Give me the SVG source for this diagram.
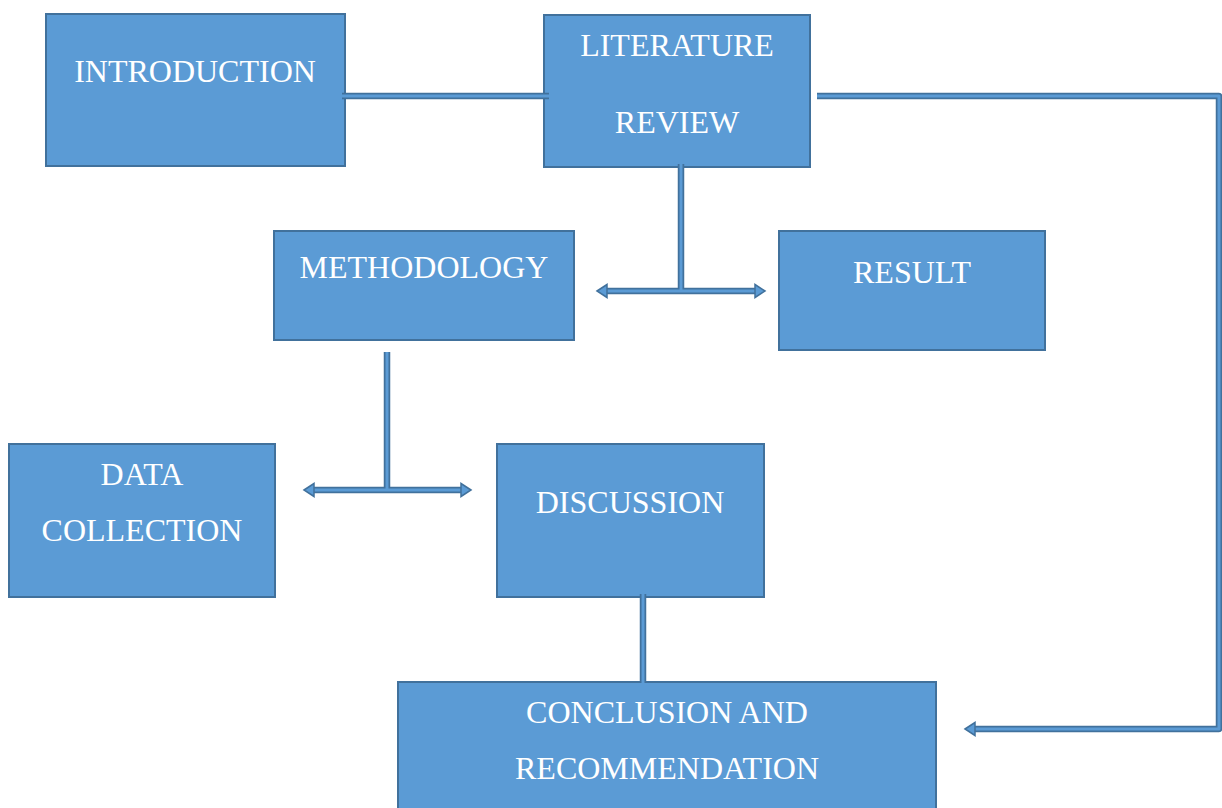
<svg xmlns="http://www.w3.org/2000/svg" width="1222" height="808" viewBox="0 0 1222 808">
<style>
.box{fill:#5b9bd5;stroke:#41719c;stroke-width:2}
.lbl{fill:#ffffff;font-family:"Liberation Serif","Times New Roman",serif;font-size:32px;text-anchor:middle}
.co{fill:none;stroke:#41719c;stroke-width:6.5;stroke-linejoin:round}
.ci{fill:none;stroke:#5b9bd5;stroke-width:3;stroke-linejoin:round}
.ah{fill:#5b9bd5;stroke:#41719c;stroke-width:1.5;stroke-linejoin:miter}
</style>
<rect width="1222" height="808" fill="#ffffff"/>
<g id="introduction"><rect class="box" x="46" y="14" width="299" height="152"/><text class="lbl" x="195" y="82">INTRODUCTION</text></g>
<g id="literature-review"><rect class="box" x="544" y="15" width="266" height="152"/><text class="lbl" x="677" y="56">LITERATURE</text><text class="lbl" x="677" y="133">REVIEW</text></g>
<g id="methodology"><rect class="box" x="274" y="231" width="300" height="109"/><text class="lbl" x="424" y="278">METHODOLOGY</text></g>
<g id="result"><rect class="box" x="779" y="231" width="266" height="119"/><text class="lbl" x="912" y="283">RESULT</text></g>
<g id="data-collection"><rect class="box" x="9" y="444" width="266" height="153"/><text class="lbl" x="142" y="485">DATA</text><text class="lbl" x="142" y="541">COLLECTION</text></g>
<g id="discussion"><rect class="box" x="497" y="444" width="267" height="153"/><text class="lbl" x="630" y="513">DISCUSSION</text></g>
<g id="conclusion"><rect class="box" x="398" y="682" width="538" height="130"/><text class="lbl" x="667" y="723">CONCLUSION AND</text><text class="lbl" x="667" y="779">RECOMMENDATION</text></g>
<g id="connectors">
<path class="co" d="M342 96H549"/>
<path class="co" d="M681 164V291"/>
<path class="co" d="M604 291H758"/>
<path class="co" d="M387 352V490"/>
<path class="co" d="M311 490H464"/>
<path class="co" d="M643 594V683"/>
<path class="co" d="M817 96H1219V729H972"/>
<path class="ci" d="M342 96H549"/>
<path class="ci" d="M681 164V291"/>
<path class="ci" d="M604 291H758"/>
<path class="ci" d="M387 352V490"/>
<path class="ci" d="M311 490H464"/>
<path class="ci" d="M643 594V683"/>
<path class="ci" d="M817 96H1219V729H972"/>
<polygon class="ah" points="597,291 607,284.5 607,297.5"/>
<polygon class="ah" points="765,291 755,284.5 755,297.5"/>
<polygon class="ah" points="304,490 314,483.5 314,496.5"/>
<polygon class="ah" points="471,490 461,483.5 461,496.5"/>
<polygon class="ah" points="965,729 975,722.5 975,735.5"/>
</g>
</svg>
